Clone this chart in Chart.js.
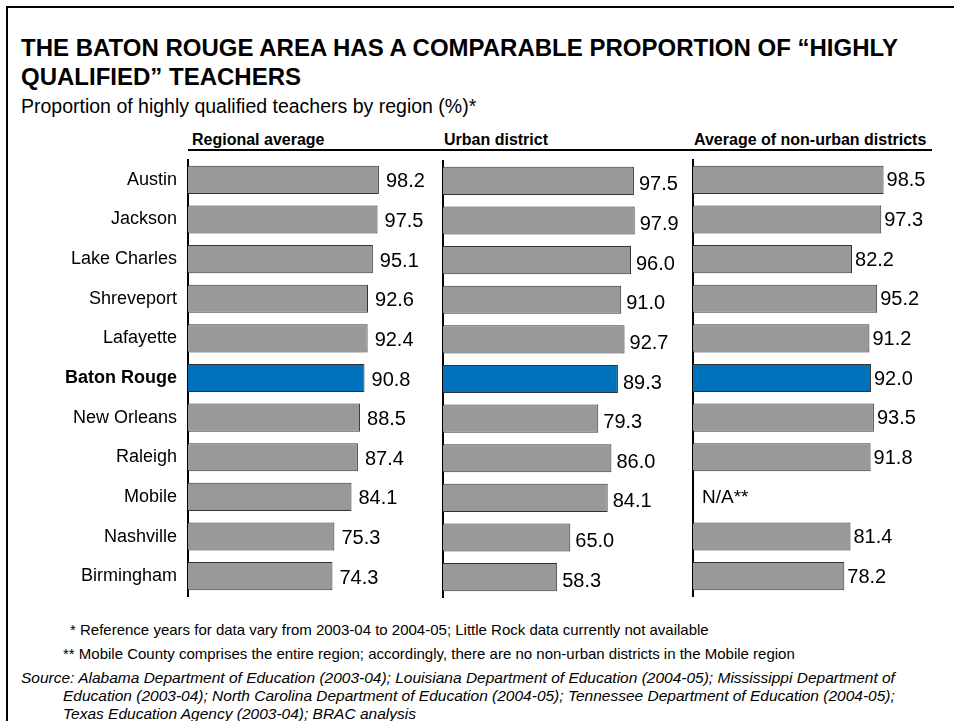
<!DOCTYPE html>
<html>
<head>
<meta charset="utf-8">
<script src="https://cdn.jsdelivr.net/npm/chart.js@4.4.1/dist/chart.umd.min.js"></script>
<style>
  html, body { margin: 0; padding: 0; background: #fff; }
  body { width: 954px; height: 721px; position: relative; overflow: hidden;
         font-family: "Liberation Sans", Arial, sans-serif; color: #000; }
  .abs { position: absolute; white-space: nowrap; }
  .frame { position: absolute; left: 6px; top: 6px; width: 960px; height: 730px;
           border-top: 2px solid #000; border-left: 2px solid #000; }
  .title { left: 21px; font-size: 24px; font-weight: bold; line-height: 29px; }
  .subtitle { left: 21px; top: 95px; font-size: 19.5px; line-height: 22px; }
  .head { top: 131px; font-size: 16px; font-weight: bold; line-height: 17px; }
  .rule { position: absolute; left: 188px; top: 149px; width: 744px; height: 2px; background: #000; }
  .note { font-size: 15px; line-height: 18px; }
  .src { font-style: italic; font-size: 15.5px; }
  canvas { position: absolute; }
</style>
</head>
<body>
<div class="frame"></div>
<div class="abs title" style="top:33px">THE BATON ROUGE AREA HAS A COMPARABLE PROPORTION OF “HIGHLY</div>
<div class="abs title" style="top:62px">QUALIFIED” TEACHERS</div>
<div class="abs subtitle">Proportion of highly qualified teachers by region (%)*</div>

<div class="abs head" style="left:192px">Regional average</div>
<div class="abs head" style="left:444px">Urban district</div>
<div class="abs head" style="left:694px">Average of non-urban districts</div>
<div class="rule"></div>

<div style="position:absolute;left:0;top:150px;width:440px;height:460px"><canvas id="c1"></canvas></div>
<div style="position:absolute;left:440px;top:150px;width:250px;height:460px"><canvas id="c2"></canvas></div>
<div style="position:absolute;left:690px;top:150px;width:264px;height:460px"><canvas id="c3"></canvas></div>

<div class="abs note" style="left:70px;top:621px">* Reference years for data vary from 2003-04 to 2004-05; Little Rock data currently not available</div>
<div class="abs note" style="left:63px;top:645px">** Mobile County comprises the entire region; accordingly, there are no non-urban districts in the Mobile region</div>
<div class="abs note src" style="left:21px;top:669px">Source: Alabama Department of Education (2003-04); Louisiana Department of Education (2004-05); Mississippi Department of</div>
<div class="abs note src" style="left:63px;top:687px">Education (2003-04); North Carolina Department of Education (2004-05); Tennessee Department of Education (2004-05);</div>
<div class="abs note src" style="left:63px;top:705px">Texas Education Agency (2003-04); BRAC analysis</div>

<script>
// Regions, in display order
const regions = ['Austin', 'Jackson', 'Lake Charles', 'Shreveport', 'Lafayette', 'Baton Rouge',
                 'New Orleans', 'Raleigh', 'Mobile', 'Nashville', 'Birmingham'];
// Share of highly qualified teachers (%)
const regionalAverage = [98.2, 97.5, 95.1, 92.6, 92.4, 90.8, 88.5, 87.4, 84.1, 75.3, 74.3];
const urbanDistrict   = [97.5, 97.9, 96.0, 91.0, 92.7, 89.3, 79.3, 86.0, 84.1, 65.0, 58.3];
const nonUrbanAverage = [98.5, 97.3, 82.2, 95.2, 91.2, 92.0, 93.5, 91.8, null, 81.4, 78.2];
const highlightRegion = 'Baton Rouge';
const missingLabel = 'N/A**';

const FONT = '"Liberation Sans", Arial, sans-serif';
const GRAY = '#999999';
const BLUE = '#0072BC';

// Writes each bar's value just past its end; empty values get the N/A note
const valueLabels = {
  id: 'valueLabels',
  afterDatasetsDraw(chart, args, opts) {
    const ctx = chart.ctx;
    const meta = chart.getDatasetMeta(0);
    const data = chart.data.datasets[0].data;
    ctx.save();
    ctx.fillStyle = '#000';
    ctx.textBaseline = 'middle';
    ctx.textAlign = 'left';
    meta.data.forEach((bar, i) => {
      const v = data[i];
      if (v === null || v === undefined) {
        const x0 = chart.scales.x.getPixelForValue(0);
        const y = chart.scales.y.getPixelForValue(i);
        ctx.font = '19px ' + FONT;
        ctx.fillText(missingLabel, x0 + 9, y + 1);
      } else {
        ctx.font = '20px ' + FONT;
        ctx.fillText(v.toFixed(1), bar.x + opts.gap, bar.y + opts.dy);
      }
    });
    ctx.restore();
  }
};

function makePanel(id, values, opt) {
  new Chart(document.getElementById(id), {
    type: 'bar',
    data: {
      labels: regions,
      datasets: [{
        data: values,
        backgroundColor: regions.map(r => r === highlightRegion ? BLUE : GRAY),
        borderColor: '#333333',
        borderWidth: 1,
        barPercentage: 0.71,
        categoryPercentage: 1
      }]
    },
    options: {
      indexAxis: 'y',
      responsive: true,
      maintainAspectRatio: false,
      animation: false,
      events: [],
      layout: { padding: { top: opt.padTop, bottom: 24 - opt.padTop, left: 0, right: opt.padRight } },
      plugins: {
        legend: { display: false },
        tooltip: { enabled: false },
        valueLabels: { gap: opt.gap, dy: opt.dy }
      },
      scales: {
        x: { display: false, min: 0, max: opt.max },
        y: {
          grid: { display: false, drawTicks: false },
          border: { display: true, color: '#000', width: 2 },
          ticks: {
            display: opt.showLabels,
            padding: 11,
            color: '#000',
            font: (c) => ({
              family: FONT, size: 18,
              weight: (c.tick && c.tick.label === highlightRegion) ? 'bold' : 'normal'
            })
          },
          afterFit(scale) {
            // fixed gutter for the region names, no extra end padding
            scale.width = opt.axisWidth;
            scale.paddingTop = 0;
            scale.paddingBottom = 0;
          }
        }
      }
    },
    plugins: [valueLabels]
  });
}

makePanel('c1', regionalAverage, { max: 125, axisWidth: 188, padRight: 9,  gap: 7, dy: 2, padTop: 10, showLabels: true });
makePanel('c2', urbanDistrict,   { max: 120, axisWidth: 3,   padRight: 12, gap: 5, dy: 4, padTop: 11, showLabels: false });
makePanel('c3', nonUrbanAverage, { max: 130, axisWidth: 3,   padRight: 9.5, gap: 3, dy: 1, padTop: 10, showLabels: false });
</script>
</body>
</html>
